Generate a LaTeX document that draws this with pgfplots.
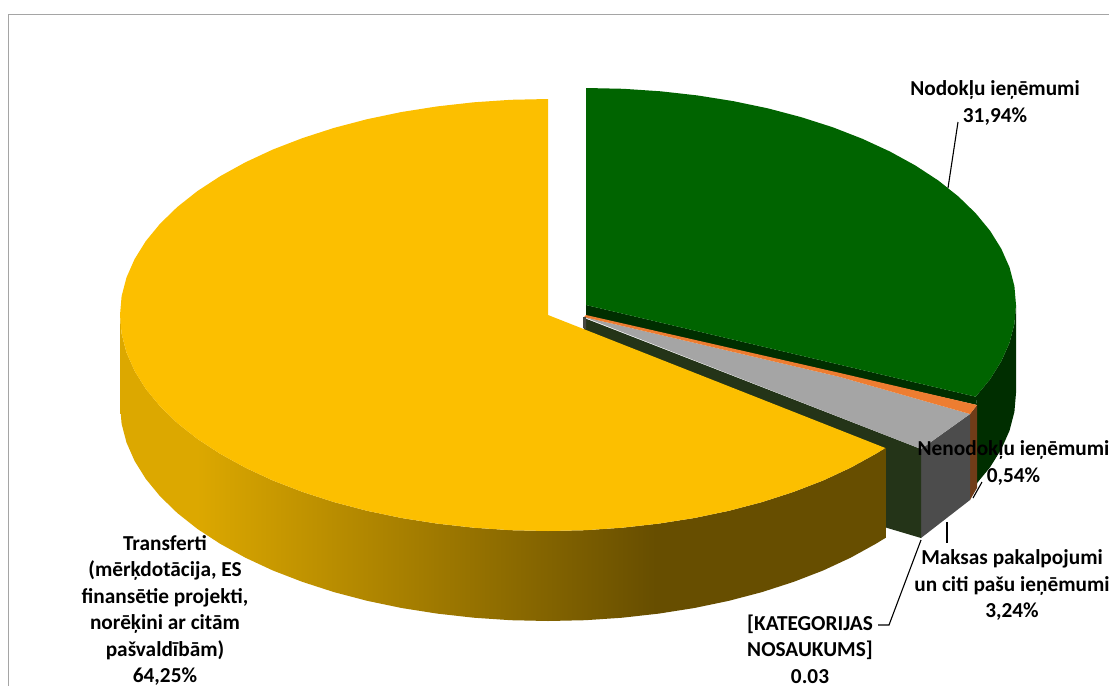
\documentclass[border=0pt]{standalone}
\usepackage{pgfplots}
\pgfplotsset{compat=1.18}
\usepackage{fontspec}
\setmainfont{Carlito}
\definecolor{yel}{RGB}{252,191,0}
\definecolor{yell}{RGB}{220,168,0}
\definecolor{yeld}{RGB}{103,78,0}
\definecolor{grn}{RGB}{0,100,0}
\definecolor{grnd}{RGB}{0,46,0}
\definecolor{org}{RGB}{237,125,49}
\definecolor{orgd}{RGB}{112,60,24}
\definecolor{gry}{RGB}{165,165,165}
\definecolor{gryd}{RGB}{76,76,76}
\definecolor{olv}{RGB}{36,52,24}
\definecolor{frm}{RGB}{165,165,165}
\pgfdeclarehorizontalshading{yelside}{100bp}{color(0bp)=(yell); color(30bp)=(yell); color(60bp)=(yeld); color(100bp)=(yeld)}
\tikzset{
    lbl/.style={font=\fontsize{21.3}{26.4}\selectfont\bfseries, align=center, text=black, inner sep=0pt},
    lead/.style={draw=black, line width=1.1pt},
}
\begin{document}
\begin{tikzpicture}
\path[use as bounding box, clip] (0,0) rectangle (1109pt,686pt);
\begin{axis}[
    at={(0,0)}, anchor=south west,
    width=1109pt, height=686pt, scale only axis,
    xmin=0, xmax=1109, ymin=0, ymax=686,
    y dir=reverse,
    hide axis, clip=false,
    every axis plot/.append style={no markers, draw=none},
]
% green slice
\addplot[fill=grnd] coordinates {(1016,305)(1014.4,323.9)(1009.5,342.7)(1001.3,361.2)(990.1,379.2)(975.7,396.7)(977,405)(977,484)(975.7,484.7)(990.1,467.2)(1001.3,449.2)(1009.5,430.7)(1014.4,411.9)(1016,393)};
\addplot[fill=grnd] coordinates {(586,305)(975.7,396.7)(977,405)(586,316)};
\addplot[fill=grn] coordinates {(586,305)(586,88)(623.5,88.8)(660.6,91.3)(697.3,95.4)(733.1,101.1)(767.7,108.3)(801,117.1)(832.6,127.2)(862.4,138.8)(890.1,151.6)(915.4,165.5)(938.3,180.5)(958.4,196.5)(975.7,213.3)(990.1,230.8)(1001.3,248.8)(1009.5,267.3)(1014.4,286.1)(1016,305)(1014.4,323.9)(1009.5,342.7)(1001.3,361.2)(990.1,379.2)(975.7,396.7)};
% small slices, walls first
\addplot[fill=orgd] coordinates {(970,414)(977,405)(977,488)(970,500)};
\addplot[fill=gryd] coordinates {(921,449)(970,414)(970,500)(921,538)};
\addplot[fill=olv] coordinates {(584,318)(921,449)(921,538)(884,527)(884,448)(584,330)};
\addplot[fill=gry] coordinates {(584,317)(840,377)(970,414)(921,449)};
\addplot[fill=org] coordinates {(586,315)(840,373)(977,405)(970,414)(840,377)(584,317)};
\addplot[fill=gryd!80!olv] coordinates {(583,317)(586,317)(586,329)(583,328)};
% yellow slice
\addplot[shading=yelside] coordinates {(120,315)(121.6,333.8)(126.5,352.5)(134.6,370.9)(145.8,388.9)(160.1,406.3)(177.3,423)(197.4,438.9)(220.2,453.8)(245.4,467.7)(272.9,480.5)(302.5,491.9)(334,502.1)(367.1,510.8)(401.6,518)(437.2,523.6)(473.7,527.7)(510.7,530.2)(548,531)(585.3,530.2)(622.3,527.7)(658.8,523.6)(694.4,518)(728.9,510.8)(762,502.1)(793.5,491.9)(823.1,480.5)(850.6,467.7)(875.8,453.8)(885.3,448)(885.3,538)(875.8,543.8)(850.6,557.7)(823.1,570.5)(793.5,581.9)(762,592.1)(728.9,600.8)(694.4,608)(658.8,613.6)(622.3,617.7)(585.3,620.2)(548,621)(510.7,620.2)(473.7,617.7)(437.2,613.6)(401.6,608)(367.1,600.8)(334,592.1)(302.5,581.9)(272.9,570.5)(245.4,557.7)(220.2,543.8)(197.4,528.9)(177.3,513)(160.1,496.3)(145.8,478.9)(134.6,460.9)(126.5,442.5)(121.6,423.8)(120,405)};
\addplot[fill=yel] coordinates {(548,315)(548,99)(510.7,99.8)(473.7,102.3)(437.2,106.4)(401.6,112)(367.1,119.2)(334,127.9)(302.5,138.1)(272.9,149.5)(245.4,162.3)(220.2,176.2)(197.4,191.1)(177.3,207)(160.1,223.7)(145.8,241.1)(134.6,259.1)(126.5,277.5)(121.6,296.2)(120,315)(121.6,333.8)(126.5,352.5)(134.6,370.9)(145.8,388.9)(160.1,406.3)(177.3,423)(197.4,438.9)(220.2,453.8)(245.4,467.7)(272.9,480.5)(302.5,491.9)(334,502.1)(367.1,510.8)(401.6,518)(437.2,523.6)(473.7,527.7)(510.7,530.2)(548,531)(585.3,530.2)(622.3,527.7)(658.8,523.6)(694.4,518)(728.9,510.8)(762,502.1)(793.5,491.9)(823.1,480.5)(850.6,467.7)(875.8,453.8)(885.3,448)};
% frame
\addplot[draw=frm, line width=1.8pt] coordinates {(8.5,686)(8.5,14.5)(1109,14.5)};
% leader lines
\addplot[lead] coordinates {(958,122)(948,188)};
\addplot[lead] coordinates {(982,482)(973,498)};
\addplot[lead] coordinates {(947,522)(947,543)};
\addplot[lead] coordinates {(921,540)(889,625)(878,625)};
% labels
\node[lbl] at (axis cs:995,103) {Nodokļu ieņēmumi\\31,94\%};
\node[lbl] at (axis cs:1013.5,463) {Nenodokļu ieņēmumi\\0,54\%};
\node[lbl] at (axis cs:1012,585) {Maksas pakalpojumi\\un citi pašu ieņēmumi\\3,24\%};
\node[lbl] at (axis cs:810,649) {[KATEGORIJAS\\NOSAUKUMS]\\0.03};
\node[lbl] at (axis cs:165,610.5) {Transferti\\(mērķdotācija, ES\\finansētie projekti,\\norēķini ar citām\\pašvaldībām)\\64,25\%};
\end{axis}
\end{tikzpicture}
\end{document}
